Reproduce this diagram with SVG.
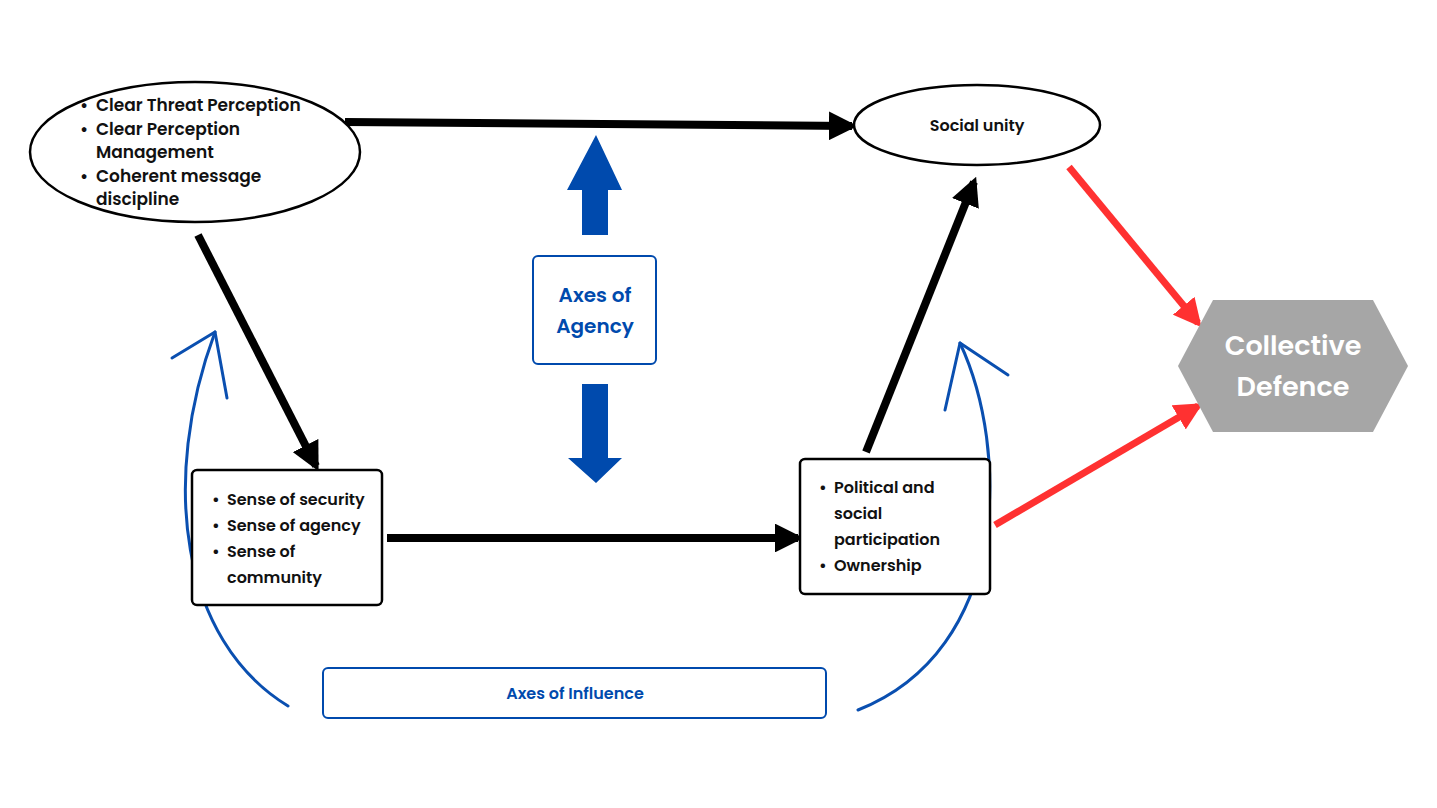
<svg xmlns="http://www.w3.org/2000/svg" width="1437" height="808" viewBox="0 0 1437 808">
<defs>
<style>
text{font-family:Poppins,"Noto Sans","Liberation Sans",sans-serif;font-weight:600;fill:#111}
.n{fill:#fff;stroke:#000;stroke-width:2.5}
.b{font-size:17px}
.blue{fill:#004aad}
.bl{stroke:#0a4fb0;stroke-width:3;fill:none;stroke-linecap:round}
</style>
<marker id="ak" viewBox="0 0 10 10" refX="8" refY="5" markerWidth="3.6" markerHeight="3.6" orient="auto"><path d="M0,0L10,5L0,10z" fill="#000"/></marker>
<marker id="ar" viewBox="0 0 10 10" refX="8" refY="5" markerWidth="4" markerHeight="4" orient="auto"><path d="M0,0L10,5L0,10z" fill="#ff3131"/></marker>
</defs>
<rect width="1437" height="808" fill="#fff"/>
<g id="connectors">
<g stroke="#000" stroke-width="8" fill="none">
<line x1="345" y1="122" x2="852" y2="126" marker-end="url(#ak)"/>
<line x1="198" y1="235" x2="316" y2="466" marker-end="url(#ak)"/>
<line x1="387" y1="538" x2="798" y2="538" marker-end="url(#ak)"/>
<line x1="866" y1="452" x2="974" y2="182" marker-end="url(#ak)"/>
</g>
<g stroke="#ff3131" stroke-width="7" fill="none">
<line x1="1069" y1="167" x2="1198" y2="323" marker-end="url(#ar)"/>
<line x1="995" y1="525" x2="1198" y2="406" marker-end="url(#ar)"/>
</g>
<path class="bl" d="M288,706 C180,640 160,480 215,332"/>
<path class="bl" d="M215,332 L172,358 M215,332 L227,398"/>
<path class="bl" d="M858,710 C1010,650 1010,450 960,343"/>
<path class="bl" d="M960,343 L945,410 M960,343 L1008,375"/>
</g>
<g id="agency-arrows">
<polygon class="blue" points="582,235 582,190 567,190 596,135 622,190 608,190 608,235"/>
<polygon class="blue" points="582,384 608,384 608,458 622,458 596,483 568,458 582,458"/>
</g>
<g id="threat">
<ellipse class="n" cx="195" cy="152" rx="165" ry="70"/>
<text class="b"><tspan x="80" y="111">•</tspan><tspan x="96" y="111">Clear Threat Perception</tspan><tspan x="80" y="135">•</tspan><tspan x="96" y="135">Clear Perception</tspan><tspan x="96" y="158">Management</tspan><tspan x="80" y="182">•</tspan><tspan x="96" y="182">Coherent message</tspan><tspan x="96" y="205">discipline</tspan></text>
</g>
<g id="unity">
<ellipse class="n" cx="977" cy="125" rx="123" ry="40"/>
<text x="977" y="131" text-anchor="middle" font-size="16">Social unity</text>
</g>
<g id="sense">
<rect class="n" x="192" y="470" width="190" height="135" rx="5"/>
<text font-size="16"><tspan x="212" y="505">•</tspan><tspan x="227" y="505">Sense of security</tspan><tspan x="212" y="531">•</tspan><tspan x="227" y="531">Sense of agency</tspan><tspan x="212" y="557">•</tspan><tspan x="227" y="557">Sense of</tspan><tspan x="227" y="583">community</tspan></text>
</g>
<g id="participation">
<rect class="n" x="800" y="459" width="190" height="135" rx="5"/>
<text font-size="16"><tspan x="819" y="493">•</tspan><tspan x="834" y="493">Political  and</tspan><tspan x="834" y="519">social</tspan><tspan x="834" y="545">participation</tspan><tspan x="819" y="571">•</tspan><tspan x="834" y="571">Ownership</tspan></text>
</g>
<g id="agency">
<rect x="533" y="256" width="123" height="108" rx="5" fill="#fff" stroke="#004aad" stroke-width="2"/>
<text x="595" y="302" text-anchor="middle" font-size="20" style="fill:#004aad">Axes of</text>
<text x="595" y="333" text-anchor="middle" font-size="20" style="fill:#004aad">Agency</text>
</g>
<g id="influence">
<rect x="323" y="668" width="503" height="50" rx="5" fill="#fff" stroke="#004aad" stroke-width="2"/>
<text x="575" y="699" text-anchor="middle" font-size="16" style="fill:#004aad">Axes of Influence</text>
</g>
<g id="defence">
<polygon points="1178,366 1213,300 1373,300 1408,366 1373,432 1213,432" fill="#a6a6a6"/>
<text x="1293" y="355" text-anchor="middle" font-size="27" style="fill:#fff">Collective</text>
<text x="1293" y="396" text-anchor="middle" font-size="27" style="fill:#fff">Defence</text>
</g>
</svg>
